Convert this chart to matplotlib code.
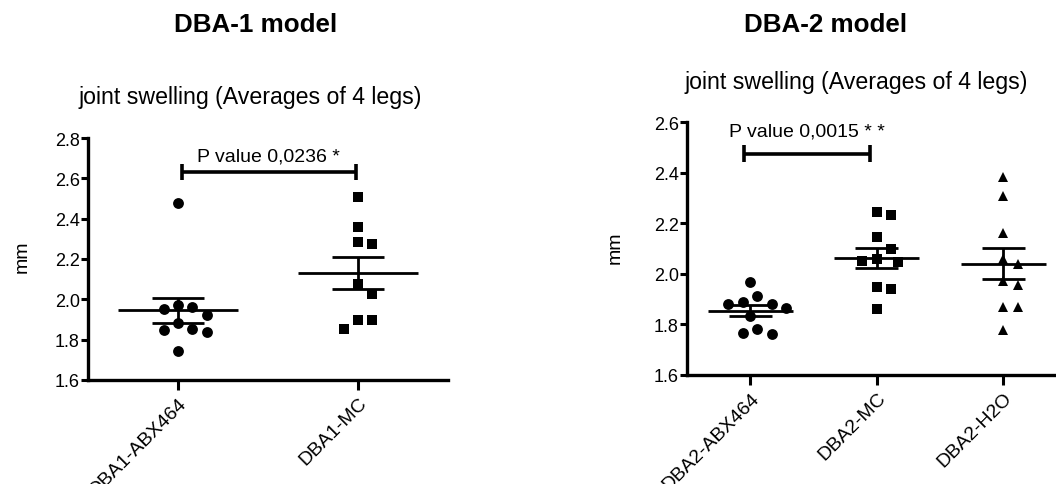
import matplotlib

matplotlib.use("Agg")
import matplotlib.pyplot as plt
import numpy as np

plt.rcParams["font.family"] = ["Liberation Sans", "DejaVu Sans"]

# joint swelling, mm (averages of 4 legs)
DBA1_GROUPS = ["DBA1-ABX464", "DBA1-MC"]
DBA1_ABX464 = [2.479, 1.964, 1.950, 1.972, 1.922, 1.883, 1.846, 1.836, 1.853, 1.742]
DBA1_MC = [2.509, 2.357, 2.273, 2.283, 2.078, 2.025, 1.898, 1.898, 1.851]

DBA2_GROUPS = ["DBA2-ABX464", "DBA2-MC", "DBA2-H2O"]
DBA2_ABX464 = [1.967, 1.913, 1.880, 1.880, 1.889, 1.864, 1.835, 1.780, 1.763, 1.766]
DBA2_MC = [2.244, 2.234, 2.144, 2.099, 2.058, 2.047, 2.051, 1.947, 1.939, 1.861]
DBA2_H2O = [2.381, 2.309, 2.161, 2.058, 2.039, 1.956, 1.973, 1.870, 1.870, 1.779]

P_DBA1 = "P value 0,0236 *"
P_DBA2 = "P value 0,0015 * *"

FIG_W, FIG_H, DPI = 10.56, 4.85, 100


def swarm_offsets(values, x_px, y_px, diam):
    # simple beeswarm in pixel space, returns x offsets in data units
    values = np.asarray(values, dtype=float)
    order = np.argsort(values)[::-1]
    placed = []
    offsets = np.zeros(len(values))
    steps = [0]
    for k in range(1, 12):
        steps += [k, -k]
    for idx in order:
        y = values[idx] * y_px
        for k in steps:
            x = k * diam * 0.5
            if all((x - px) ** 2 + (y - py) ** 2 >= (diam * 0.98) ** 2 for px, py in placed):
                break
        placed.append((x, y))
        offsets[idx] = x / x_px
    return offsets


def draw_panel(ax, groups, series, markers, sizes, x_px, y_px, half_mean, half_cap):
    for i, (vals, marker, ms) in enumerate(zip(series, markers, sizes), start=1):
        vals = np.asarray(vals)
        off = swarm_offsets(vals, x_px, y_px, 14.5)
        ax.plot(i + off, vals, linestyle="None", marker=marker, markersize=ms,
                color="black", markeredgewidth=0, zorder=3)
        mean = vals.mean()
        sem = vals.std(ddof=1) / np.sqrt(len(vals))
        ax.hlines(mean, i - half_mean, i + half_mean, color="black", lw=2.0, zorder=4)
        ax.hlines([mean - sem, mean + sem], i - half_cap, i + half_cap, color="black", lw=2.0, zorder=4)
        ax.vlines(i, mean - sem, mean + sem, color="black", lw=2.0, zorder=4)

    for side in ["top", "right"]:
        ax.spines[side].set_visible(False)
    for side in ["left", "bottom"]:
        ax.spines[side].set_linewidth(2.4)
    ax.set_xticks(range(1, len(groups) + 1))
    ax.set_xticklabels(groups, rotation=45, ha="right", va="top", rotation_mode="anchor", fontsize=14)
    ax.tick_params(axis="x", length=7, width=2.2, pad=3)
    ax.tick_params(axis="y", length=5, width=2.2, labelsize=13, pad=1)
    ax.yaxis.set_major_formatter(matplotlib.ticker.FormatStrFormatter("%.1f"))


def bracket(ax, x1, x2, y, h, text, ty):
    ax.hlines(y, x1, x2, color="black", lw=2.6, clip_on=False)
    ax.vlines([x1, x2], y - h, y + h, color="black", lw=2.6, clip_on=False)
    ax.text((x1 + x2) / 2, ty, text, ha="center", va="center", fontsize=14)


def main() -> None:
    fig = plt.figure(figsize=(FIG_W, FIG_H), dpi=DPI)

    # DBA-1 panel
    ax1 = fig.add_axes([88 / 1056, 104 / 485, 360 / 1056, 242 / 485])
    ax1.set_xlim(0.5, 2.5)
    ax1.set_ylim(1.6, 2.8)
    ax1.set_yticks(np.arange(1.6, 2.81, 0.2))
    draw_panel(ax1, DBA1_GROUPS, [DBA1_ABX464, DBA1_MC], ["o", "s"], [7.8, 7.0],
               181.0, 201.7, 0.335, 0.147)
    bracket(ax1, 1.02, 1.99, 2.631, 0.04, P_DBA1, 2.71)

    # DBA-2 panel (runs off the right edge like the original)
    ax2 = fig.add_axes([687 / 1056, 109 / 485, 379.5 / 1056, 253 / 485])
    ax2.set_xlim(0.5, 3.5)
    ax2.set_ylim(1.6, 2.6)
    ax2.set_yticks(np.arange(1.6, 2.61, 0.2))
    draw_panel(ax2, DBA2_GROUPS, [DBA2_ABX464, DBA2_MC, DBA2_H2O], ["o", "s", "^"], [7.8, 7.0, 7.8],
               126.5, 253.0, 0.335, 0.17)
    bracket(ax2, 0.95, 1.95, 2.474, 0.034, P_DBA2, 2.565)

    fig.text(256 / 1056, 1 - 25 / 485, "DBA-1 model", ha="center", va="center", fontsize=18.7, fontweight="bold")
    fig.text(826 / 1056, 1 - 25 / 485, "DBA-2 model", ha="center", va="center", fontsize=18.7, fontweight="bold")
    fig.text(250 / 1056, 1 - 98 / 485, "joint swelling (Averages of 4 legs)", ha="center", va="center", fontsize=16.7)
    fig.text(856 / 1056, 1 - 83 / 485, "joint swelling (Averages of 4 legs)", ha="center", va="center", fontsize=16.7)
    fig.text(22 / 1056, 1 - 257 / 485, "mm", ha="center", va="center", rotation=90, fontsize=14)
    fig.text(615 / 1056, 1 - 248 / 485, "mm", ha="center", va="center", rotation=90, fontsize=14)

    fig.savefig("out.png", dpi=DPI)
    plt.close(fig)


if __name__ == "__main__":
    main()
